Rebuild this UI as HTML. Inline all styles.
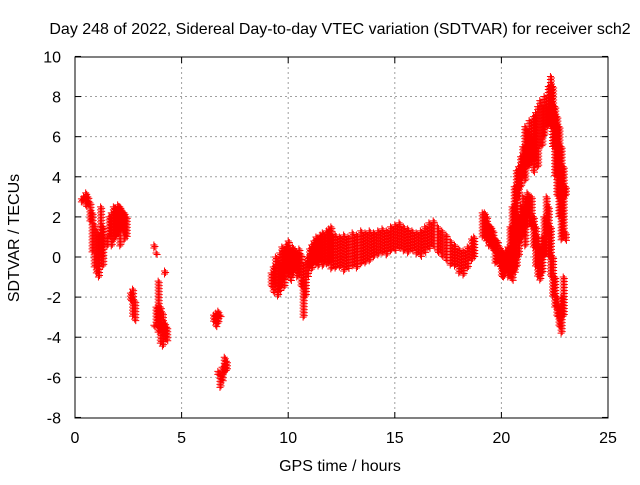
<!DOCTYPE html>
<html><head><meta charset="utf-8"><style>
body{margin:0;background:#fff}
svg{font-family:"Liberation Sans",sans-serif;font-size:16px}
</style></head><body>
<svg id="c" width="640" height="480">
<rect width="640" height="480" fill="#fff"/>
<text x="340" y="34" text-anchor="middle">Day 248 of 2022, Sidereal Day-to-day VTEC variation (SDTVAR) for receiver sch2</text>
<text x="340" y="471" text-anchor="middle">GPS time / hours</text>
<text transform="translate(19,238) rotate(-90)" text-anchor="middle">SDTVAR / TECUs</text>
<g id="grid"></g><g id="marks"></g>
<rect x="75" y="57" width="533" height="361" fill="none" stroke="#000"/>
</svg>
<script>
const xTicks=[0,5,10,15,20,25];
const yTicks=[-8,-6,-4,-2,0,2,4,6,8,10];
// each entry: [hour, low, high]
const earlyData=[[0.3,2.7,2.9],[0.4,2.8,3],[0.5,2.5,3.2],[0.6,2.6,3],[0.7,1.8,2.7],[0.8,0.2,2.2],[0.9,-0.5,1.6],[1.0,-0.8,1.3],[1.1,-1,1.1],[1.2,0,2.5],[1.3,-0.5,1.5],[1.5,0.5,1],[1.6,1,2],[1.7,0.5,2.2],[1.8,0.8,2.5],[1.9,1,2.4],[2.0,1.2,2.6],[2.1,0.5,2.5],[2.2,1.3,2.3],[2.3,0.8,2.2],[2.4,1,2],[2.6,-2.2,-1.8],[2.7,-3,-1.6],[2.8,-3.2,-2.2],[3.7,0.4,0.6],[3.7,-3.5,-3.4],[3.8,0.1,0.2],[3.8,-3.3,-2.5],[3.9,-3.8,-1.2],[4.0,-4.3,-2.5],[4.1,-4.5,-2.8],[4.2,-4,-3.3],[4.2,-0.9,-0.7],[4.3,-4.2,-3.5],[6.5,-3.2,-2.9],[6.6,-3.5,-2.8],[6.7,-3.3,-2.7],[6.7,-5.9,-5.7],[6.8,-3,-2.9],[6.8,-6.5,-5.9],[6.9,-6.2,-5.5],[7.0,-5.8,-5],[7.1,-5.7,-5.2]];
const midData=[[9.2,-1.5,-0.8],[9.3,-1.8,-0.5],[9.4,-1.4,0],[9.5,-2,-0.3],[9.6,-1.7,0.2],[9.7,-1.2,0.5],[9.8,-1.5,0.3],[9.9,-1,0.6],[10.0,-0.8,0.8],[10.1,-1.2,0.4],[10.2,-0.9,0.5],[10.3,-0.7,0.3],[10.4,-1,0.2],[10.5,-0.8,0.4],[10.6,-1.5,0.1],[10.7,-3,-1.2],[10.8,-2,-0.3],[10.9,-1,0],[11.0,-0.5,0.4],[11.1,-0.6,0.6],[11.2,-0.3,0.8],[11.3,-0.4,1],[11.4,-0.5,0.9],[11.5,-0.2,1.1],[11.6,-0.5,1.2],[11.7,-0.2,1],[11.8,-0.4,1.3],[11.9,-0.3,1.4],[12.0,-0.6,1.5],[12.2,-0.6,1.1],[12.4,-0.5,1],[12.6,-0.7,1.1],[12.8,-0.6,1],[13.0,-0.5,1.2],[13.2,-0.6,1.1],[13.4,-0.4,1.3],[13.6,-0.3,1.2],[13.8,-0.2,1.3],[14.0,0,1.2],[14.2,0.1,1.3],[14.4,0.2,1.4],[14.6,0.1,1.3],[14.8,0.3,1.5],[15.0,0.3,1.6],[15.2,0.4,1.7],[15.4,0.3,1.5],[15.6,0.2,1.4],[15.8,0.3,1.3],[16.0,0.1,1.2],[16.2,0,1.3],[16.4,0.2,1.5],[16.6,0.4,1.7],[16.8,0.5,1.8],[17.0,0.2,1.5],[17.2,0,1.3],[17.4,-0.2,1.1],[17.6,-0.4,0.8],[17.8,-0.5,0.6],[18.0,-0.8,0.4],[18.2,-0.9,0.3],[18.4,-0.6,0.5],[18.6,-0.2,0.9],[18.7,0,1],[19.1,1,2.2],[19.2,1,2.2],[19.3,0.8,2],[19.4,0.5,1.6],[19.5,0.5,1.5],[19.6,0.3,1.3],[19.7,-0.3,0.9],[19.8,-0.3,0.8],[19.9,-0.5,0.5],[20.0,-1,0.3],[20.1,-1,0.2],[20.2,-0.8,0.3],[20.3,-1,0.5]];
const lateData=[[20.4,-1,1.5],[20.5,-1.2,2.5],[20.6,-0.8,3.5],[20.7,-0.5,4.3],[20.8,0,2],[20.8,3,4.5],[20.9,0.8,2.5],[20.9,3.5,5],[21.0,1,3],[21.0,4,5.5],[21.1,0.5,2.5],[21.1,3.8,6.5],[21.2,1.5,3.2],[21.2,4.5,6.3],[21.3,2,3],[21.3,4.5,6.8],[21.4,1.5,3],[21.4,4.8,6],[21.5,0.5,2],[21.5,4.2,7],[21.6,-0.5,1.5],[21.6,5,7.2],[21.7,-1,1],[21.7,4.5,7.5],[21.8,-1.2,0.5],[21.8,5.5,7.8],[21.9,-0.8,1],[21.9,5.5,7.5],[22.0,0,2],[22.0,6,8],[22.1,1,3],[22.1,6.5,7.5],[22.2,0,2.5],[22.2,6.5,8.5],[22.3,-1,1.5],[22.3,6.5,9],[22.4,-2,0],[22.4,5.5,8.5],[22.5,-2.5,-1],[22.5,4,7.5],[22.6,-3,-2],[22.6,3,7],[22.7,-3.5,-2.5],[22.7,2,6.5],[22.8,-3.8,-2],[22.8,0.8,5.5],[22.9,-3,-1],[22.9,1,4.5],[23.0,0.8,1.2],[23.0,3,3.5]];
const X=t=>75+t*(533/25), Y=v=>257-v*(361/18);
const ns="http://www.w3.org/2000/svg";
const grid=document.getElementById('grid'), marks=document.getElementById('marks');
function mk(tag,attrs,parent){const e=document.createElementNS(ns,tag);for(const k in attrs)e.setAttribute(k,attrs[k]);parent.appendChild(e);return e;}
xTicks.forEach(t=>{
 if(t>0&&t<25){const l=mk('line',{x1:X(t),x2:X(t),y1:57,y2:418,stroke:'#a0a0a0','stroke-dasharray':'2,3'},grid);
 
 }
 mk('line',{x1:X(t),x2:X(t),y1:418,y2:412,stroke:'#000'},grid);
 mk('line',{x1:X(t),x2:X(t),y1:57,y2:63,stroke:'#000'},grid);
 const tx=mk('text',{x:X(t),y:443,'text-anchor':'middle'},grid);tx.textContent=t;
 
 
});
yTicks.forEach(v=>{
 if(v>-8&&v<10){const l=mk('line',{x1:75,x2:608,y1:Y(v),y2:Y(v),stroke:'#a0a0a0','stroke-dasharray':'2,3'},grid);
 
 }
 mk('line',{x1:75,x2:81,y1:Y(v),y2:Y(v),stroke:'#000'},grid);
 mk('line',{x1:608,x2:602,y1:Y(v),y2:Y(v),stroke:'#000'},grid);
 const tx=mk('text',{x:61,y:Y(v)+6,'text-anchor':'end'},grid);tx.textContent=v;
 
 
});
let d='';
[earlyData,midData,lateData].forEach(arr=>arr.forEach(([t,lo,hi])=>{
 const x=X(t);
 for(let y=Y(hi);y<=Y(lo)+0.01;y+=3){d+=`M${x-3.5},${y}h7M${x},${y-3.5}v7`;}
 const x2=X(t+0.05);
 for(let y=Y(hi)+1.5;y<=Y(lo);y+=3){d+=`M${x2-3.5},${y}h7M${x2},${y-3.5}v7`;}
}));
const p=mk('path',{d:d,stroke:'#ff0000','stroke-width':1,fill:'none'},marks);


</script>
</body></html>
